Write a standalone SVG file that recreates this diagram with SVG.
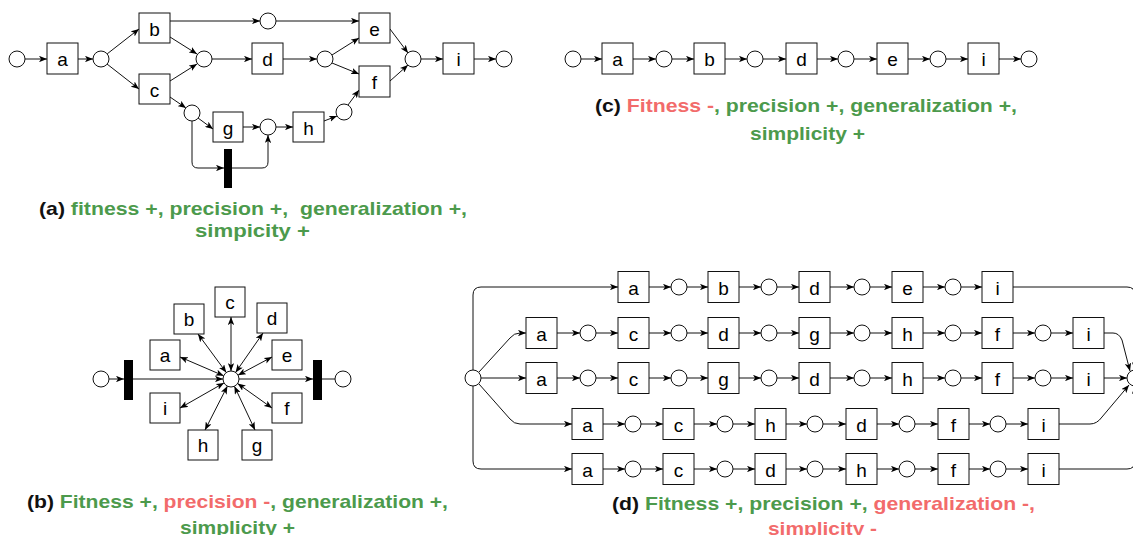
<svg xmlns="http://www.w3.org/2000/svg" width="1133" height="535" viewBox="0 0 1133 535">
<style>
.box{fill:#fff;stroke:#111;stroke-width:1}
.pl{fill:#fff;stroke:#111;stroke-width:1}
.bar{fill:#000}
.lbl{font-family:"Liberation Sans",Arial,sans-serif;font-size:19px;text-anchor:middle;fill:#000}
.e{fill:none;stroke:#111;stroke-width:1;marker-end:url(#ah)}
.n{fill:none;stroke:#111;stroke-width:1}
.d2{fill:none;stroke:#111;stroke-width:1;marker-start:url(#ah);marker-end:url(#ah)}
.cap{font-family:"Liberation Sans",Arial,sans-serif;font-weight:bold;font-size:19px}
.k{fill:#111}.g{fill:#4c9a4c}.r{fill:#f26b6b}
</style>
<defs>
<marker id="ah" viewBox="0 0 10 8" refX="10" refY="4" markerWidth="8" markerHeight="6.4" orient="auto-start-reverse" markerUnits="userSpaceOnUse"><path d="M0,0 L10,4 L0,8 L2.5,4 z" fill="#000"/></marker>
</defs>

<g id="connectors">
<!-- panel a -->
<path class="e" d="M25,59 H47"/>
<path class="e" d="M78,59 H93"/>
<path class="e" d="M107,54 L139,29"/>
<path class="e" d="M107,64 L139,89"/>
<path class="e" d="M170,21 H260"/>
<path class="e" d="M170,37 L197,54"/>
<path class="e" d="M170,81 L197,64"/>
<path class="e" d="M170,97 L186,108"/>
<path class="e" d="M212,59 H252"/>
<path class="e" d="M198,118 L213,129"/>
<path class="e" d="M192,121 V162 Q192,168 198,168 H224"/>
<path class="e" d="M232,168 H262 Q268,168 268,162 V135"/>
<path class="e" d="M243,127 H260"/>
<path class="e" d="M276,127 H293"/>
<path class="e" d="M324,121 L337,116"/>
<path class="e" d="M348,105 L359,90"/>
<path class="e" d="M276,21 H359"/>
<path class="e" d="M283,59 H317"/>
<path class="e" d="M332,55 L359,38"/>
<path class="e" d="M332,63 L359,74"/>
<path class="e" d="M390,29 L408,53"/>
<path class="e" d="M390,81 L408,65"/>
<path class="e" d="M421,59 H443"/>
<path class="e" d="M474,59 H496"/>
<!-- panel b -->
<path class="e" d="M109,379 H124"/>
<path class="e" d="M133,379 H223"/>
<path class="e" d="M239,379 H313"/>
<path class="n" d="M322,379 H335"/>
<path class="d2" d="M231,371 V317"/>
<path class="d2" d="M226.3,372.5 L198,334"/>
<path class="d2" d="M235.6,372.4 L263,333"/>
<path class="d2" d="M223.7,375.8 L180,357"/>
<path class="d2" d="M238,375.2 L272,357"/>
<path class="d2" d="M224,382.9 L180,408"/>
<path class="d2" d="M237.6,383.5 L272,408"/>
<path class="d2" d="M227.4,386.1 L205,430"/>
<path class="d2" d="M234.4,386.2 L255,430"/>
<!-- panel c -->
<path class="e" d="M581,59 H602"/>
<path class="e" d="M633,59 H656"/>
<path class="e" d="M672,59 H694"/>
<path class="e" d="M725,59 H747"/>
<path class="e" d="M763,59 H786"/>
<path class="e" d="M817,59 H838"/>
<path class="e" d="M854,59 H877"/>
<path class="e" d="M908,59 H930"/>
<path class="e" d="M946,59 H968"/>
<path class="e" d="M999,59 H1021"/>
<!-- panel d: from start place -->
<path class="e" d="M473,370 V295 Q473,287 481,287 H618"/>
<path class="e" d="M479,372 L510,338 Q514,333 520,333 H526"/>
<path class="e" d="M481,378 H526"/>
<path class="e" d="M479,384 L510,419 Q514,424 520,424 H572"/>
<path class="e" d="M473,386 V461 Q473,469 481,469 H572"/>
<!-- panel d: to end place -->
<path class="e" d="M1013,287 H1127 Q1135,287 1135,295 V370"/>
<path class="e" d="M1104,333 H1113 Q1119,333 1122,340 L1130,371"/>
<path class="e" d="M1104,378 H1127"/>
<path class="e" d="M1059,424 H1090 Q1097,424 1102,417 L1129,385"/>
<path class="e" d="M1059,469 H1127 Q1135,469 1135,461 V386"/>
<!-- row 1 -->
<path class="e" d="M649,287 H671"/><path class="e" d="M687,287 H708"/>
<path class="e" d="M739,287 H761"/><path class="e" d="M777,287 H799"/>
<path class="e" d="M830,287 H854"/><path class="e" d="M870,287 H892"/>
<path class="e" d="M923,287 H945"/><path class="e" d="M961,287 H982"/>
<!-- row 2 -->
<path class="e" d="M557,333 H580"/><path class="e" d="M596,333 H618"/>
<path class="e" d="M649,333 H671"/><path class="e" d="M687,333 H708"/>
<path class="e" d="M739,333 H761"/><path class="e" d="M777,333 H799"/>
<path class="e" d="M830,333 H854"/><path class="e" d="M870,333 H892"/>
<path class="e" d="M923,333 H945"/><path class="e" d="M961,333 H982"/>
<path class="e" d="M1013,333 H1035"/><path class="e" d="M1051,333 H1073"/>
<!-- row 3 -->
<path class="e" d="M557,378 H580"/><path class="e" d="M596,378 H618"/>
<path class="e" d="M649,378 H671"/><path class="e" d="M687,378 H708"/>
<path class="e" d="M739,378 H761"/><path class="e" d="M777,378 H799"/>
<path class="e" d="M830,378 H854"/><path class="e" d="M870,378 H892"/>
<path class="e" d="M923,378 H945"/><path class="e" d="M961,378 H982"/>
<path class="e" d="M1013,378 H1035"/><path class="e" d="M1051,378 H1073"/>
<!-- row 4 -->
<path class="e" d="M603,424 H625"/><path class="e" d="M641,424 H663"/>
<path class="e" d="M694,424 H717"/><path class="e" d="M733,424 H755"/>
<path class="e" d="M786,424 H807"/><path class="e" d="M823,424 H846"/>
<path class="e" d="M877,424 H899"/><path class="e" d="M915,424 H938"/>
<path class="e" d="M969,424 H990"/><path class="e" d="M1006,424 H1028"/>
<!-- row 5 -->
<path class="e" d="M603,469 H625"/><path class="e" d="M641,469 H663"/>
<path class="e" d="M694,469 H717"/><path class="e" d="M733,469 H755"/>
<path class="e" d="M786,469 H807"/><path class="e" d="M823,469 H846"/>
<path class="e" d="M877,469 H899"/><path class="e" d="M915,469 H938"/>
<path class="e" d="M969,469 H990"/><path class="e" d="M1006,469 H1028"/>
</g>

<!-- ===== Panel (a) nodes ===== -->
<g id="a-p0"><circle class="pl" cx="17" cy="59" r="8"/></g>
<g id="a-a"><rect class="box" x="47" y="43" width="31" height="31"/><text class="lbl" x="62.5" y="66">a</text></g>
<g id="a-p1"><circle class="pl" cx="101" cy="59" r="8"/></g>
<g id="a-b"><rect class="box" x="139" y="13" width="31" height="30"/><text class="lbl" x="154.5" y="35.5">b</text></g>
<g id="a-c"><rect class="box" x="139" y="74" width="31" height="30"/><text class="lbl" x="154.5" y="96.5">c</text></g>
<g id="a-ptop"><circle class="pl" cx="268" cy="21" r="8"/></g>
<g id="a-pmid"><circle class="pl" cx="204" cy="59" r="8"/></g>
<g id="a-d"><rect class="box" x="252" y="43" width="31" height="31"/><text class="lbl" x="267.5" y="66">d</text></g>
<g id="a-plow"><circle class="pl" cx="192" cy="113" r="8"/></g>
<g id="a-g"><rect class="box" x="213" y="112" width="30" height="30"/><text class="lbl" x="228" y="134.5">g</text></g>
<g id="a-pg"><circle class="pl" cx="268" cy="127" r="8"/></g>
<g id="a-bar"><rect class="bar" x="224" y="149" width="8" height="39"/></g>
<g id="a-h"><rect class="box" x="293" y="112" width="31" height="30"/><text class="lbl" x="308.5" y="134.5">h</text></g>
<g id="a-ph"><circle class="pl" cx="344" cy="112" r="8"/></g>
<g id="a-pd"><circle class="pl" cx="325" cy="59" r="8"/></g>
<g id="a-e"><rect class="box" x="359" y="13" width="31" height="30"/><text class="lbl" x="374.5" y="35.5">e</text></g>
<g id="a-f"><rect class="box" x="359" y="66" width="31" height="31"/><text class="lbl" x="374.5" y="89">f</text></g>
<g id="a-pef"><circle class="pl" cx="413" cy="59" r="8"/></g>
<g id="a-i"><rect class="box" x="443" y="43" width="31" height="31"/><text class="lbl" x="458.5" y="66">i</text></g>
<g id="a-pend"><circle class="pl" cx="504" cy="59" r="8"/></g>

<!-- ===== Panel (b) nodes ===== -->
<g id="b-pl"><circle class="pl" cx="101" cy="379" r="8"/></g>
<g id="b-barl"><rect class="bar" x="124" y="360" width="9" height="40"/></g>
<g id="b-pc"><circle class="pl" cx="231" cy="379" r="8"/></g>
<g id="b-barr"><rect class="bar" x="313" y="360" width="9" height="40"/></g>
<g id="b-pr"><circle class="pl" cx="343" cy="379" r="8"/></g>
<g id="b-c"><rect class="box" x="215" y="287" width="30" height="30"/><text class="lbl" x="230" y="309">c</text></g>
<g id="b-b"><rect class="box" x="174" y="304" width="30" height="30"/><text class="lbl" x="189" y="326">b</text></g>
<g id="b-d"><rect class="box" x="257" y="303" width="30" height="30"/><text class="lbl" x="272" y="325">d</text></g>
<g id="b-a"><rect class="box" x="150" y="340" width="30" height="30"/><text class="lbl" x="165" y="362">a</text></g>
<g id="b-e"><rect class="box" x="272" y="340" width="30" height="30"/><text class="lbl" x="287" y="362">e</text></g>
<g id="b-i"><rect class="box" x="150" y="393" width="30" height="30"/><text class="lbl" x="165" y="415">i</text></g>
<g id="b-f"><rect class="box" x="272" y="393" width="30" height="30"/><text class="lbl" x="287" y="415">f</text></g>
<g id="b-h"><rect class="box" x="188" y="430" width="30" height="30"/><text class="lbl" x="203" y="452">h</text></g>
<g id="b-g"><rect class="box" x="242" y="430" width="30" height="30"/><text class="lbl" x="257" y="452">g</text></g>

<!-- ===== Panel (c) nodes ===== -->
<g id="c-p1"><circle class="pl" cx="573" cy="59" r="8"/></g>
<g id="c-a"><rect class="box" x="602" y="43" width="31" height="31"/><text class="lbl" x="617.5" y="66">a</text></g>
<g id="c-p2"><circle class="pl" cx="664" cy="59" r="8"/></g>
<g id="c-b"><rect class="box" x="694" y="43" width="31" height="31"/><text class="lbl" x="709.5" y="66">b</text></g>
<g id="c-p3"><circle class="pl" cx="755" cy="59" r="8"/></g>
<g id="c-d"><rect class="box" x="786" y="43" width="31" height="31"/><text class="lbl" x="801.5" y="66">d</text></g>
<g id="c-p4"><circle class="pl" cx="846" cy="59" r="8"/></g>
<g id="c-e"><rect class="box" x="877" y="43" width="31" height="31"/><text class="lbl" x="892.5" y="66">e</text></g>
<g id="c-p5"><circle class="pl" cx="938" cy="59" r="8"/></g>
<g id="c-i"><rect class="box" x="968" y="43" width="31" height="31"/><text class="lbl" x="983.5" y="66">i</text></g>
<g id="c-p6"><circle class="pl" cx="1029" cy="59" r="8"/></g>

<!-- ===== Panel (d) nodes ===== -->
<g id="d-start"><circle class="pl" cx="473" cy="378" r="8"/></g>
<g id="d-end"><circle class="pl" cx="1135" cy="378" r="8"/></g>
<!-- row 1 -->
<g id="d1-a"><rect class="box" x="618" y="271.5" width="31" height="31"/><text class="lbl" x="633.5" y="294.5">a</text></g>
<g id="d1-p1"><circle class="pl" cx="679" cy="287" r="8"/></g>
<g id="d1-b"><rect class="box" x="708" y="271.5" width="31" height="31"/><text class="lbl" x="723.5" y="294.5">b</text></g>
<g id="d1-p2"><circle class="pl" cx="769" cy="287" r="8"/></g>
<g id="d1-d"><rect class="box" x="799" y="271.5" width="31" height="31"/><text class="lbl" x="814.5" y="294.5">d</text></g>
<g id="d1-p3"><circle class="pl" cx="862" cy="287" r="8"/></g>
<g id="d1-e"><rect class="box" x="892" y="271.5" width="31" height="31"/><text class="lbl" x="907.5" y="294.5">e</text></g>
<g id="d1-p4"><circle class="pl" cx="953" cy="287" r="8"/></g>
<g id="d1-i"><rect class="box" x="982" y="271.5" width="31" height="31"/><text class="lbl" x="997.5" y="294.5">i</text></g>
<!-- row 2 -->
<g id="d2-a"><rect class="box" x="526" y="317.5" width="31" height="31"/><text class="lbl" x="541.5" y="340.5">a</text></g>
<g id="d2-p1"><circle class="pl" cx="588" cy="333" r="8"/></g>
<g id="d2-c"><rect class="box" x="618" y="317.5" width="31" height="31"/><text class="lbl" x="633.5" y="340.5">c</text></g>
<g id="d2-p2"><circle class="pl" cx="679" cy="333" r="8"/></g>
<g id="d2-d"><rect class="box" x="708" y="317.5" width="31" height="31"/><text class="lbl" x="723.5" y="340.5">d</text></g>
<g id="d2-p3"><circle class="pl" cx="769" cy="333" r="8"/></g>
<g id="d2-g"><rect class="box" x="799" y="317.5" width="31" height="31"/><text class="lbl" x="814.5" y="340.5">g</text></g>
<g id="d2-p4"><circle class="pl" cx="862" cy="333" r="8"/></g>
<g id="d2-h"><rect class="box" x="892" y="317.5" width="31" height="31"/><text class="lbl" x="907.5" y="340.5">h</text></g>
<g id="d2-p5"><circle class="pl" cx="953" cy="333" r="8"/></g>
<g id="d2-f"><rect class="box" x="982" y="317.5" width="31" height="31"/><text class="lbl" x="997.5" y="340.5">f</text></g>
<g id="d2-p6"><circle class="pl" cx="1043" cy="333" r="8"/></g>
<g id="d2-i"><rect class="box" x="1073" y="317.5" width="31" height="31"/><text class="lbl" x="1088.5" y="340.5">i</text></g>
<!-- row 3 -->
<g id="d3-a"><rect class="box" x="526" y="362.5" width="31" height="31"/><text class="lbl" x="541.5" y="385.5">a</text></g>
<g id="d3-p1"><circle class="pl" cx="588" cy="378" r="8"/></g>
<g id="d3-c"><rect class="box" x="618" y="362.5" width="31" height="31"/><text class="lbl" x="633.5" y="385.5">c</text></g>
<g id="d3-p2"><circle class="pl" cx="679" cy="378" r="8"/></g>
<g id="d3-g"><rect class="box" x="708" y="362.5" width="31" height="31"/><text class="lbl" x="723.5" y="385.5">g</text></g>
<g id="d3-p3"><circle class="pl" cx="769" cy="378" r="8"/></g>
<g id="d3-d"><rect class="box" x="799" y="362.5" width="31" height="31"/><text class="lbl" x="814.5" y="385.5">d</text></g>
<g id="d3-p4"><circle class="pl" cx="862" cy="378" r="8"/></g>
<g id="d3-h"><rect class="box" x="892" y="362.5" width="31" height="31"/><text class="lbl" x="907.5" y="385.5">h</text></g>
<g id="d3-p5"><circle class="pl" cx="953" cy="378" r="8"/></g>
<g id="d3-f"><rect class="box" x="982" y="362.5" width="31" height="31"/><text class="lbl" x="997.5" y="385.5">f</text></g>
<g id="d3-p6"><circle class="pl" cx="1043" cy="378" r="8"/></g>
<g id="d3-i"><rect class="box" x="1073" y="362.5" width="31" height="31"/><text class="lbl" x="1088.5" y="385.5">i</text></g>
<!-- row 4 -->
<g id="d4-a"><rect class="box" x="572" y="408.5" width="31" height="31"/><text class="lbl" x="587.5" y="431.5">a</text></g>
<g id="d4-p1"><circle class="pl" cx="633" cy="424" r="8"/></g>
<g id="d4-c"><rect class="box" x="663" y="408.5" width="31" height="31"/><text class="lbl" x="678.5" y="431.5">c</text></g>
<g id="d4-p2"><circle class="pl" cx="725" cy="424" r="8"/></g>
<g id="d4-h"><rect class="box" x="755" y="408.5" width="31" height="31"/><text class="lbl" x="770.5" y="431.5">h</text></g>
<g id="d4-p3"><circle class="pl" cx="815" cy="424" r="8"/></g>
<g id="d4-d"><rect class="box" x="846" y="408.5" width="31" height="31"/><text class="lbl" x="861.5" y="431.5">d</text></g>
<g id="d4-p4"><circle class="pl" cx="907" cy="424" r="8"/></g>
<g id="d4-f"><rect class="box" x="938" y="408.5" width="31" height="31"/><text class="lbl" x="953.5" y="431.5">f</text></g>
<g id="d4-p5"><circle class="pl" cx="998" cy="424" r="8"/></g>
<g id="d4-i"><rect class="box" x="1028" y="408.5" width="31" height="31"/><text class="lbl" x="1043.5" y="431.5">i</text></g>
<!-- row 5 -->
<g id="d5-a"><rect class="box" x="572" y="453.5" width="31" height="31"/><text class="lbl" x="587.5" y="476.5">a</text></g>
<g id="d5-p1"><circle class="pl" cx="633" cy="469" r="8"/></g>
<g id="d5-c"><rect class="box" x="663" y="453.5" width="31" height="31"/><text class="lbl" x="678.5" y="476.5">c</text></g>
<g id="d5-p2"><circle class="pl" cx="725" cy="469" r="8"/></g>
<g id="d5-d"><rect class="box" x="755" y="453.5" width="31" height="31"/><text class="lbl" x="770.5" y="476.5">d</text></g>
<g id="d5-p3"><circle class="pl" cx="815" cy="469" r="8"/></g>
<g id="d5-h"><rect class="box" x="846" y="453.5" width="31" height="31"/><text class="lbl" x="861.5" y="476.5">h</text></g>
<g id="d5-p4"><circle class="pl" cx="907" cy="469" r="8"/></g>
<g id="d5-f"><rect class="box" x="938" y="453.5" width="31" height="31"/><text class="lbl" x="953.5" y="476.5">f</text></g>
<g id="d5-p5"><circle class="pl" cx="998" cy="469" r="8"/></g>
<g id="d5-i"><rect class="box" x="1028" y="453.5" width="31" height="31"/><text class="lbl" x="1043.5" y="476.5">i</text></g>

<!-- ===== Captions ===== -->
<g id="captions">
<text class="cap" x="39" y="215" textLength="428" lengthAdjust="spacingAndGlyphs" xml:space="preserve"><tspan class="k">(a) </tspan><tspan class="g">fitness +, precision +,  generalization +,</tspan></text>
<text class="cap g" x="195" y="237" textLength="115" lengthAdjust="spacingAndGlyphs">simpicity +</text>
<text class="cap" x="27" y="508" textLength="421" lengthAdjust="spacingAndGlyphs" xml:space="preserve"><tspan class="k">(b) </tspan><tspan class="g">Fitness +, </tspan><tspan class="r">precision -</tspan><tspan class="g">, generalization +,</tspan></text>
<text class="cap g" x="180" y="534" textLength="115" lengthAdjust="spacingAndGlyphs">simplicity +</text>
<text class="cap" x="595" y="112" textLength="422" lengthAdjust="spacingAndGlyphs" xml:space="preserve"><tspan class="k">(c) </tspan><tspan class="r">Fitness -</tspan><tspan class="g">, precision +, generalization +,</tspan></text>
<text class="cap g" x="750" y="140" textLength="115" lengthAdjust="spacingAndGlyphs">simplicity +</text>
<text class="cap" x="612" y="510" textLength="423" lengthAdjust="spacingAndGlyphs" xml:space="preserve"><tspan class="k">(d) </tspan><tspan class="g">Fitness +, precision +, </tspan><tspan class="r">generalization -,</tspan></text>
<text class="cap r" x="768" y="535" textLength="109" lengthAdjust="spacingAndGlyphs">simplicity -</text>
</g>
</svg>
